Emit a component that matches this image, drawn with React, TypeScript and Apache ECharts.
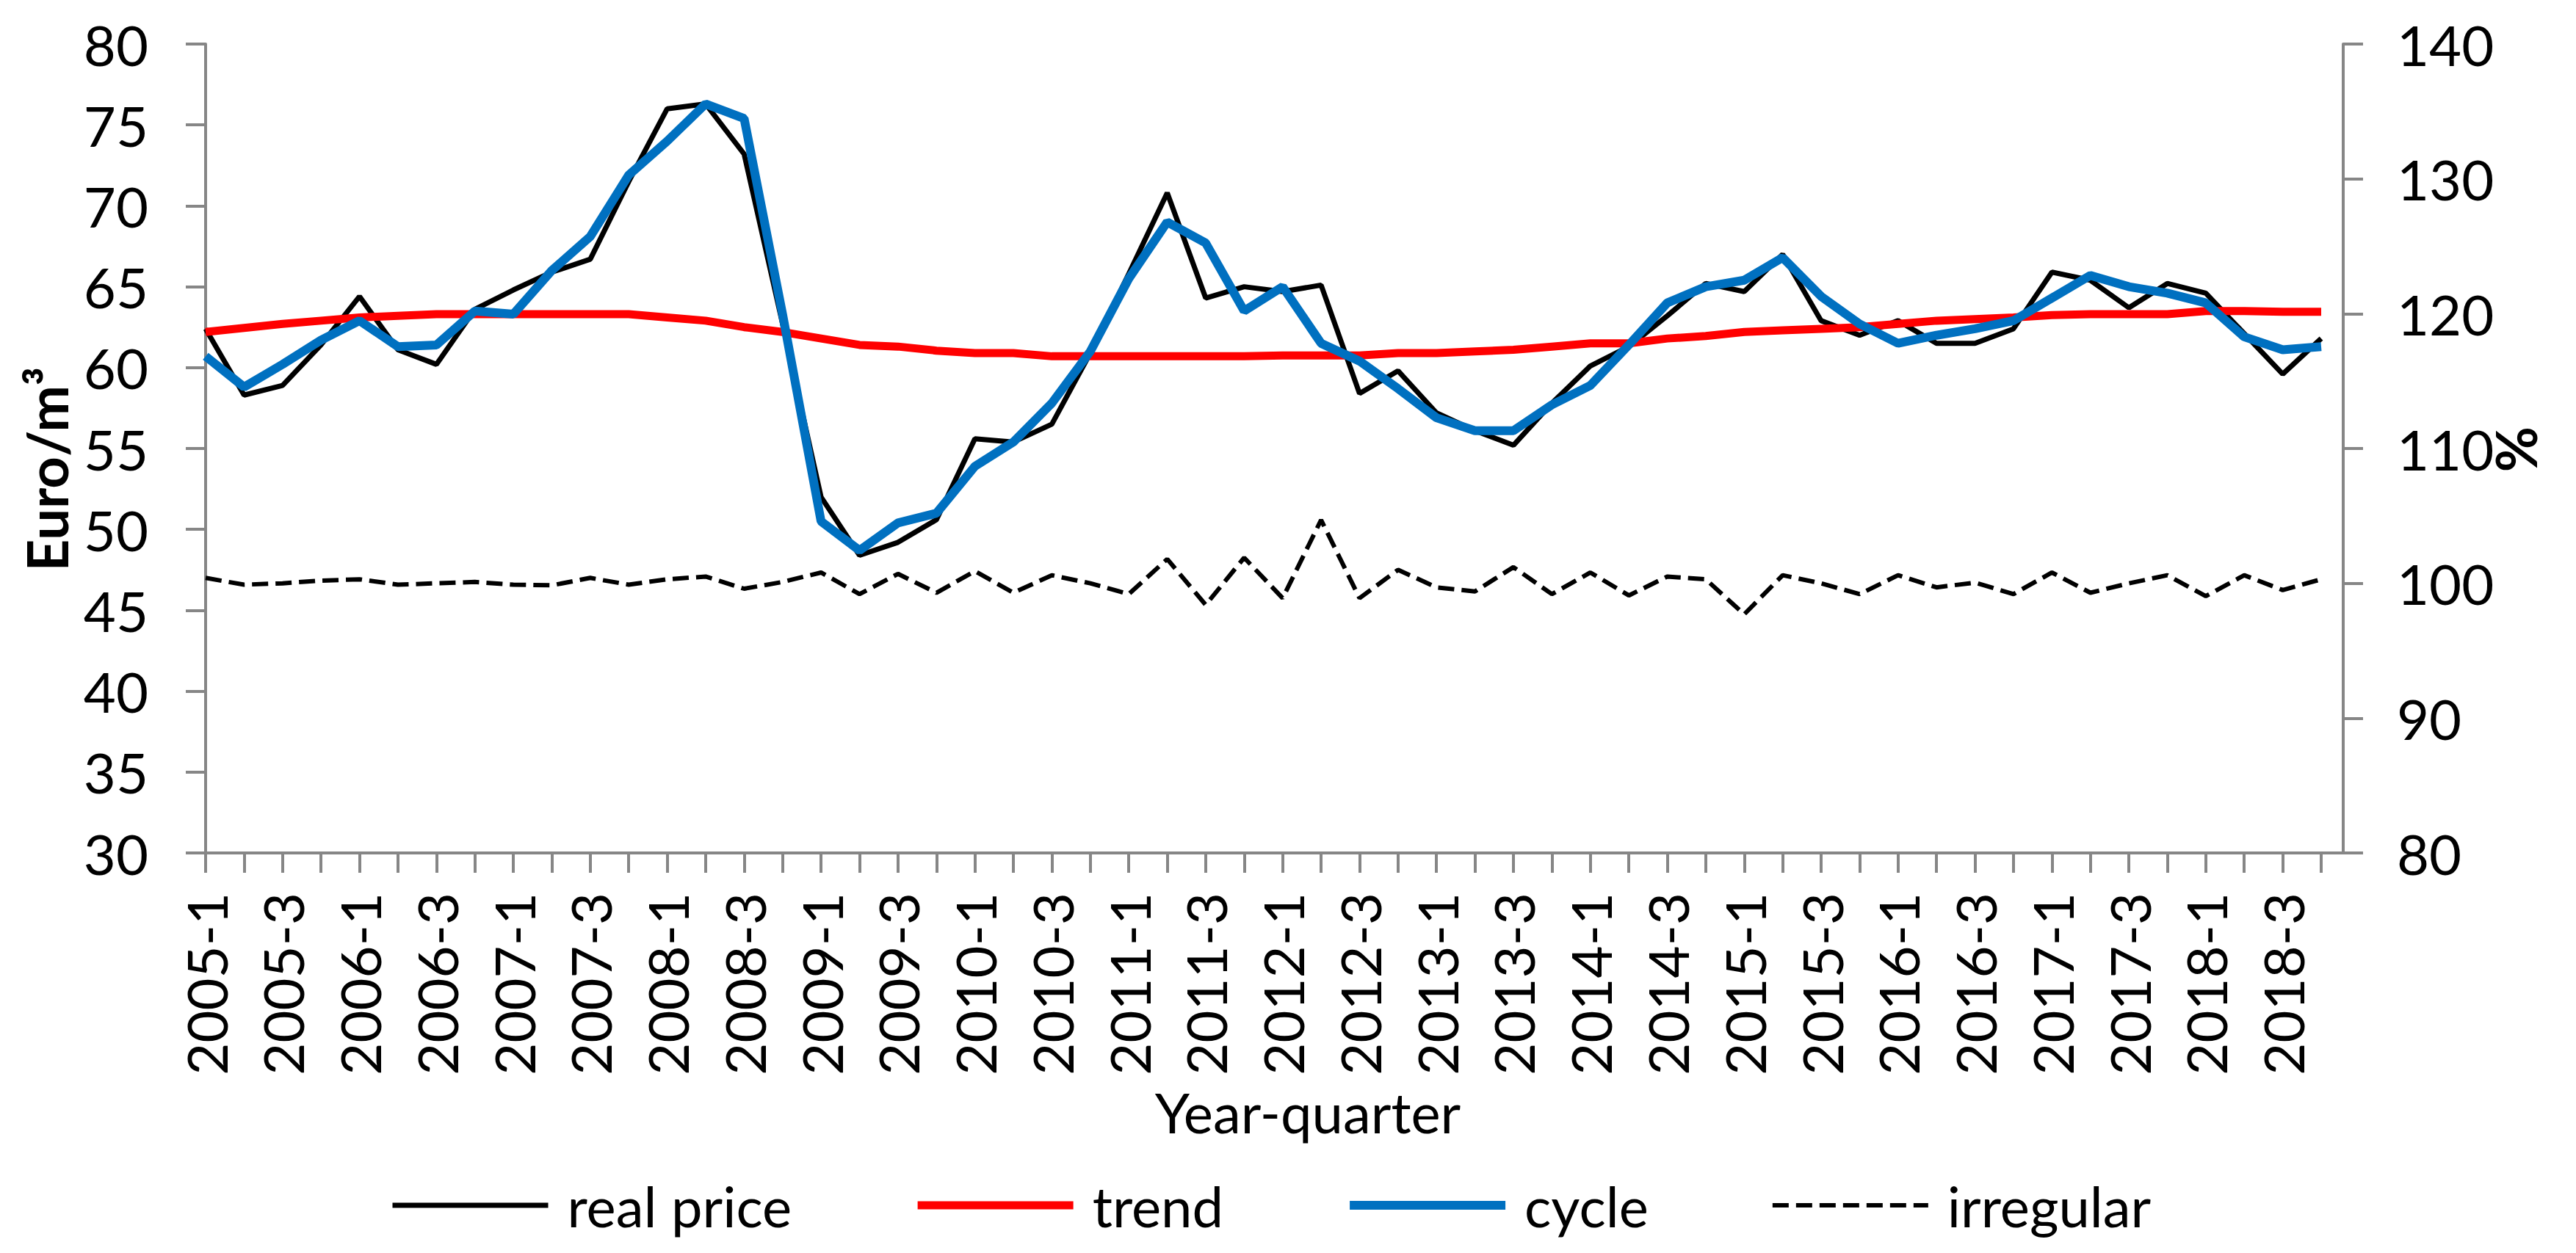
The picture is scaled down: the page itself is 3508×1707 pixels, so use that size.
import React, { useEffect, useRef } from "react";
import * as echarts from "echarts";

const categories = [
  "2005-1","2005-2","2005-3","2005-4","2006-1","2006-2","2006-3","2006-4",
  "2007-1","2007-2","2007-3","2007-4","2008-1","2008-2","2008-3","2008-4",
  "2009-1","2009-2","2009-3","2009-4","2010-1","2010-2","2010-3","2010-4",
  "2011-1","2011-2","2011-3","2011-4","2012-1","2012-2","2012-3","2012-4",
  "2013-1","2013-2","2013-3","2013-4","2014-1","2014-2","2014-3","2014-4",
  "2015-1","2015-2","2015-3","2015-4","2016-1","2016-2","2016-3","2016-4",
  "2017-1","2017-2","2017-3","2017-4","2018-1","2018-2","2018-3","2018-4",
];

const realPrice = [
  62.4, 58.3, 58.9, 61.4, 64.4, 61.1, 60.2, 63.6,
  64.8, 65.9, 66.7, 71.5, 76.0, 76.3, 73.2, 62.7,
  52.0, 48.4, 49.2, 50.6, 55.6, 55.4, 56.5, 60.9,
  65.8, 70.8, 64.3, 65.0, 64.7, 65.1, 58.4, 59.8,
  57.2, 56.1, 55.2, 57.8, 60.1, 61.3, 63.2, 65.2,
  64.7, 67.0, 62.9, 62.0, 62.9, 61.5, 61.5, 62.4,
  65.9, 65.4, 63.7, 65.2, 64.6, 62.1, 59.6, 61.8,
];

const trend = [
  62.2, 62.45, 62.7, 62.9, 63.1, 63.2, 63.3, 63.3,
  63.3, 63.3, 63.3, 63.3, 63.1, 62.9, 62.5, 62.2,
  61.8, 61.4, 61.3, 61.05, 60.9, 60.9, 60.7, 60.7,
  60.7, 60.7, 60.7, 60.7, 60.75, 60.75, 60.75, 60.9,
  60.9, 61.0, 61.1, 61.3, 61.5, 61.5, 61.8, 61.95,
  62.2, 62.3, 62.4, 62.5, 62.7, 62.9, 63.0, 63.1,
  63.25, 63.3, 63.3, 63.3, 63.5, 63.5, 63.45, 63.45,
];

const cycle = [
  60.7, 58.8, 60.2, 61.7, 62.9, 61.3, 61.4, 63.5,
  63.3, 66.0, 68.1, 71.9, 74.0, 76.3, 75.4, 63.3,
  50.5, 48.7, 50.4, 51.0, 53.9, 55.4, 57.8, 61.0,
  65.5, 69.0, 67.7, 63.5, 65.0, 61.5, 60.4, 58.7,
  56.9, 56.1, 56.1, 57.7, 58.9, 61.4, 64.0, 65.0,
  65.4, 66.8, 64.4, 62.7, 61.5, 62.0, 62.4, 62.9,
  64.3, 65.7, 65.0, 64.6, 64.0, 61.9, 61.1, 61.3,
];

const irregular = [
  100.4, 99.9, 100.0, 100.2, 100.3, 99.9, 100.0, 100.1,
  99.9, 99.85, 100.4, 99.9, 100.3, 100.5, 99.6, 100.1,
  100.8, 99.2, 100.7, 99.3, 100.9, 99.3, 100.6, 100.0,
  99.2, 101.8, 98.4, 101.9, 98.9, 104.7, 98.9, 101.0,
  99.7, 99.4, 101.2, 99.2, 100.8, 99.1, 100.5, 100.3,
  97.7, 100.6, 100.0, 99.2, 100.6, 99.7, 100.05, 99.2,
  100.8, 99.3, 100.0, 100.6, 99.05, 100.6, 99.5, 100.3,
];

const seriesNames = ["real price", "trend", "cycle", "irregular"];

const FONT = "Lato";
const AXIS_GRAY = "#868686";

// layout (px)
const GRID_LEFT = 280;
const GRID_TOP = 60;
const GRID_RIGHT = 347;
const GRID_BOTTOM = 545;
const RIGHT_AXIS_OFFSET = 30;

export default function App() {
  const ref = useRef<HTMLDivElement>(null);

  useEffect(() => {
    document.body.style.margin = "0";
    if (!ref.current) return;
    const chart = echarts.init(ref.current, null, { renderer: "svg" });
    const W = 3508;
    const H = 1707;

    const axisLineStyle = { color: AXIS_GRAY, width: 4 };
    const labelStyle = { fontFamily: FONT, fontSize: 76, color: "#000" };
    const axisBottomY = H - GRID_BOTTOM;
    const gridRightX = W - GRID_RIGHT;

    const option: any = {
      animation: false,
      backgroundColor: "#fff",
      grid: {
        left: GRID_LEFT,
        right: GRID_RIGHT,
        top: GRID_TOP,
        bottom: GRID_BOTTOM,
        outerBoundsMode: "none",
        containLabel: false,
      },
      xAxis: {
        type: "category",
        data: categories,
        boundaryGap: false,
        axisLine: { show: true, onZero: false, lineStyle: axisLineStyle },
        axisTick: { show: true, inside: false, length: 27, interval: 0, lineStyle: { color: AXIS_GRAY, width: 4 } },
        axisLabel: { ...labelStyle, interval: 1, rotate: 90, margin: 54, hideOverlap: false },
        splitLine: { show: false },
      },
      yAxis: [
        {
          type: "value",
          position: "left",
          min: 30,
          max: 80,
          interval: 5,
          axisLine: { show: true, onZero: false, lineStyle: axisLineStyle },
          axisTick: { show: true, inside: false, length: 27, lineStyle: { color: AXIS_GRAY, width: 4 } },
          axisLabel: { ...labelStyle, margin: 78 },
          splitLine: { show: false },
        },
        {
          type: "value",
          position: "right",
          offset: RIGHT_AXIS_OFFSET,
          min: 80,
          max: 140,
          interval: 10,
          axisLine: { show: true, onZero: false, lineStyle: axisLineStyle },
          axisTick: { show: true, inside: false, length: 27, lineStyle: { color: AXIS_GRAY, width: 4 } },
          axisLabel: { ...labelStyle, margin: 73 },
          splitLine: { show: false },
        },
      ],
      legend: {
        data: seriesNames,
        left: 526,
        top: 1599,
        itemWidth: 212,
        itemHeight: 30,
        itemGap: 166,
        lineStyle: { width: "inherit" },
        itemStyle: { opacity: 0 },
        textStyle: { fontFamily: FONT, fontSize: 76, color: "#000", lineHeight: 76, padding: [0, 0, 0, 21] },
      },
      graphic: [
        {
          type: "line",
          silent: true,
          shape: { x1: gridRightX - 2, y1: axisBottomY, x2: gridRightX + RIGHT_AXIS_OFFSET, y2: axisBottomY },
          style: { stroke: AXIS_GRAY, lineWidth: 4 },
        },
        {
          type: "text",
          x: 63,
          y: 639,
          rotation: Math.PI / 2,
          style: { text: "Euro/m³", fontFamily: FONT, fontSize: 76, fontWeight: "bold", fill: "#000", align: "center", verticalAlign: "middle" },
        },
        {
          type: "text",
          x: 3425,
          y: 612,
          rotation: Math.PI / 2,
          style: { text: "%", fontFamily: FONT, fontSize: 76, fontWeight: "bold", fill: "#000", align: "center", verticalAlign: "middle" },
        },
        {
          type: "text",
          x: 1781,
          y: 1514,
          style: { text: "Year-quarter", fontFamily: FONT, fontSize: 76, fill: "#000", align: "center", verticalAlign: "middle" },
        },
      ],
      series: [
        { name: seriesNames[0], type: "line", yAxisIndex: 0, data: realPrice, symbol: "none", lineStyle: { color: "#000000", width: 7 }, itemStyle: { color: "#000000" } },
        { name: seriesNames[1], type: "line", yAxisIndex: 0, data: trend, symbol: "none", lineStyle: { color: "#FF0000", width: 11 }, itemStyle: { color: "#FF0000" } },
        { name: seriesNames[2], type: "line", yAxisIndex: 0, data: cycle, symbol: "none", lineStyle: { color: "#0070C0", width: 12 }, itemStyle: { color: "#0070C0" } },
        { name: seriesNames[3], type: "line", yAxisIndex: 1, data: irregular, symbol: "none", lineStyle: { color: "#000000", width: 6, type: [22, 10] }, itemStyle: { color: "#000000" } },
      ],
    };

    chart.setOption(option);
    return () => chart.dispose();
  }, []);

  return <div ref={ref} style={{ width: 3508, height: 1707 }} />;
}
